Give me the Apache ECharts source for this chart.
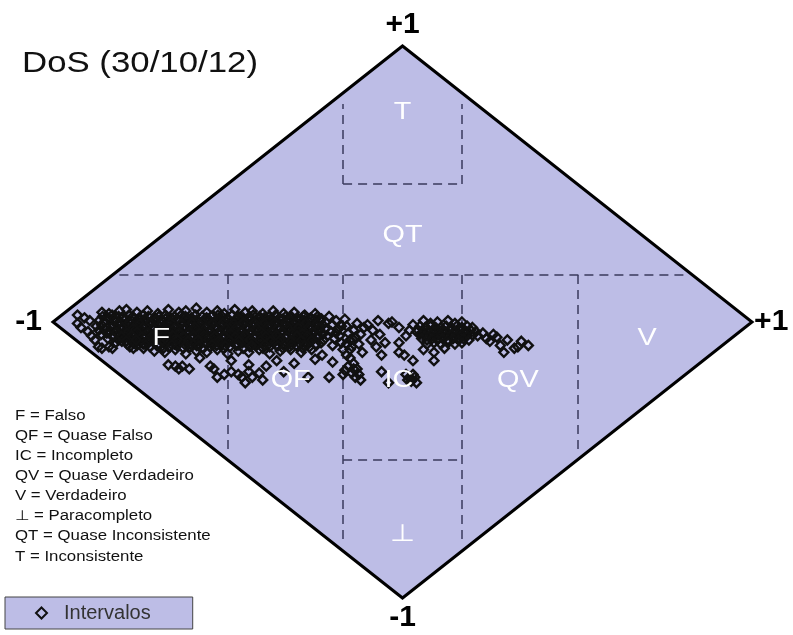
<!DOCTYPE html>
<html>
<head>
<meta charset="utf-8">
<script src="https://cdn.jsdelivr.net/npm/echarts@6/dist/echarts.min.js"></script>
<style>
  html, body { margin: 0; padding: 0; background: #fff; }
  #chart { width: 793px; height: 635px; }
</style>
</head>
<body>
<div id="chart"></div>
<script>
// lattice: x = grau de certeza, y = grau de contradicao
const losango = [[-1, 0], [0, 1], [1, 0], [0, -1], [-1, 0]];

// dashed borders of the regions
const divisorias = [
  [[-0.81, 0.17], [0.81, 0.17]],
  [[-0.5, 0.17], [-0.5, -0.47]],
  [[0.5, 0.17], [0.5, -0.47]],
  [[-0.17, 0.17], [-0.17, -0.8]],
  [[0.17, 0.17], [0.17, -0.8]],
  [[-0.17, -0.5], [0.17, -0.5]],
  [[-0.17, 0.5], [-0.17, 0.79]],
  [[0.17, 0.5], [0.17, 0.79]],
  [[-0.17, 0.5], [0.17, 0.5]]
];

const regioes = ['T', 'QT', 'F', 'QF', 'IC', 'QV', 'V', '⊥'];
const regiaoX = [0, 0, -0.69, -0.32, -0.01, 0.33, 0.70, 0];
const regiaoY = [0.76, 0.315, -0.06, -0.21, -0.21, -0.21, -0.06, -0.77];

const vertices = ['+1', '-1', '+1', '-1'];
const verticeX = [0, -1.07, 1.055, 0];
const verticeY = [1.076, 0, 0, -1.07];

const legendaSiglas = [
  'F = Falso',
  'QF = Quase Falso',
  'IC = Incompleto',
  'QV = Quase Verdadeiro',
  'V = Verdadeiro',
  '⊥ = Paracompleto',
  'QT = Quase Inconsistente',
  'T = Inconsistente'
];

// intervalos (certeza, contradicao)
const intervalos = [
  // left tail
  [-.93,.025],[-.91,.015],[-.93,-.005],[-.92,-.02],[-.90,-.035],[-.89,-.05],[-.88,-.065],[-.87,-.09],
  [-.86,-.095],[-.84,-.09],[-.83,-.095],[-.77,-.095],[-.86,.035],[-.84,.03],[-.79,.045],[-.895,.005],
  // main band
  [-.81,.04],[-.76,.035],[-.73,.04],[-.70,.03],[-.67,.045],[-.64,.035],[-.62,.04],[-.59,.05],[-.56,.035],
  [-.53,.04],[-.51,.03],[-.48,.045],[-.45,.035],[-.43,.04],[-.40,.03],[-.37,.04],[-.34,.03],[-.31,.035],
  [-.28,.025],[-.25,.03],
  [-.858,.02],[-.843,.015],[-.831,.025],[-.812,.02],[-.801,.015],[-.783,.025],[-.772,.02],[-.754,.015],
  [-.741,.025],[-.727,.02],[-.709,.015],[-.697,.02],[-.678,.025],[-.664,.015],[-.652,.02],[-.633,.025],
  [-.621,.02],[-.604,.015],[-.592,.025],[-.573,.02],[-.561,.015],[-.547,.02],[-.528,.025],[-.516,.02],
  [-.502,.015],[-.487,.025],[-.469,.02],[-.456,.015],[-.438,.02],[-.427,.025],[-.409,.02],[-.396,.015],
  [-.381,.02],[-.363,.025],[-.352,.015],[-.334,.02],[-.318,.02],[-.302,.015],[-.284,.02],[-.263,.015],
  [-.243,.02],
  [-.868,.005],[-.852,0],[-.838,.01],[-.821,.005],[-.807,0],[-.792,.01],[-.776,.005],[-.762,0],
  [-.748,.01],[-.733,.005],[-.716,0],[-.703,.01],[-.687,.005],[-.672,0],[-.657,.01],[-.641,.005],
  [-.628,0],[-.612,.01],[-.597,.005],[-.583,0],[-.566,.01],[-.552,.005],[-.537,0],[-.522,.01],
  [-.508,.005],[-.493,0],[-.477,.01],[-.463,.005],[-.447,0],[-.432,.01],[-.417,.005],[-.403,0],
  [-.388,.01],[-.372,.005],[-.357,0],[-.342,.01],[-.327,.005],[-.311,0],[-.296,.01],[-.281,.005],
  [-.266,0],[-.25,.01],[-.235,.005],[-.22,0],
  [-.876,-.015],[-.861,-.01],[-.846,-.02],[-.829,-.015],[-.814,-.01],[-.799,-.02],[-.785,-.015],[-.769,-.01],
  [-.754,-.02],[-.739,-.015],[-.724,-.01],[-.71,-.02],[-.694,-.015],[-.679,-.01],[-.664,-.02],[-.65,-.015],
  [-.634,-.01],[-.619,-.02],[-.604,-.015],[-.589,-.01],[-.575,-.02],[-.559,-.015],[-.544,-.01],[-.529,-.02],
  [-.515,-.015],[-.5,-.01],[-.485,-.02],[-.469,-.015],[-.454,-.01],[-.44,-.02],[-.424,-.015],[-.409,-.01],
  [-.395,-.02],[-.379,-.015],[-.364,-.01],[-.35,-.02],[-.334,-.015],[-.319,-.01],[-.304,-.02],[-.289,-.015],
  [-.274,-.01],[-.259,-.02],[-.243,-.015],[-.228,-.01],
  [-.869,-.03],[-.853,-.025],[-.837,-.035],[-.822,-.03],[-.806,-.025],[-.792,-.035],[-.777,-.03],[-.761,-.025],
  [-.747,-.035],[-.731,-.03],[-.717,-.025],[-.702,-.035],[-.686,-.03],[-.672,-.025],[-.656,-.035],[-.642,-.03],
  [-.627,-.025],[-.611,-.035],[-.596,-.03],[-.582,-.025],[-.567,-.035],[-.551,-.03],[-.536,-.025],[-.521,-.035],
  [-.507,-.03],[-.492,-.025],[-.476,-.035],[-.462,-.03],[-.446,-.025],[-.431,-.035],[-.417,-.03],[-.401,-.025],
  [-.387,-.035],[-.371,-.03],[-.356,-.025],[-.342,-.035],[-.326,-.03],[-.311,-.025],[-.296,-.035],[-.282,-.03],
  [-.266,-.025],[-.251,-.035],[-.236,-.03],[-.221,-.025],
  [-.862,-.045],[-.846,-.04],[-.831,-.05],[-.815,-.045],[-.8,-.04],[-.786,-.05],[-.77,-.045],[-.755,-.04],
  [-.739,-.05],[-.724,-.045],[-.709,-.04],[-.695,-.05],[-.679,-.045],[-.664,-.04],[-.649,-.05],[-.634,-.045],
  [-.619,-.04],[-.604,-.05],[-.589,-.045],[-.574,-.04],[-.559,-.05],[-.544,-.045],[-.529,-.04],[-.514,-.05],
  [-.499,-.045],[-.484,-.04],[-.469,-.05],[-.454,-.045],[-.439,-.04],[-.424,-.05],[-.409,-.045],[-.394,-.04],
  [-.379,-.05],[-.364,-.045],[-.349,-.04],[-.334,-.05],[-.319,-.045],[-.304,-.04],[-.289,-.05],[-.274,-.045],
  [-.259,-.04],[-.244,-.05],[-.229,-.045],
  [-.843,-.06],[-.827,-.055],[-.812,-.065],[-.797,-.06],[-.781,-.055],[-.767,-.065],[-.752,-.06],[-.736,-.055],
  [-.722,-.065],[-.706,-.06],[-.691,-.055],[-.677,-.065],[-.661,-.06],[-.646,-.055],[-.631,-.065],[-.616,-.06],
  [-.601,-.055],[-.586,-.065],[-.571,-.06],[-.556,-.055],[-.541,-.065],[-.526,-.06],[-.511,-.055],[-.496,-.065],
  [-.481,-.06],[-.466,-.055],[-.451,-.065],[-.436,-.06],[-.421,-.055],[-.406,-.065],[-.391,-.06],[-.376,-.055],
  [-.361,-.065],[-.346,-.06],[-.331,-.055],[-.316,-.065],[-.301,-.06],[-.286,-.055],[-.271,-.065],[-.256,-.06],
  [-.241,-.055],[-.226,-.065],
  [-.821,-.075],[-.803,-.07],[-.788,-.08],[-.772,-.075],[-.758,-.07],[-.742,-.08],[-.727,-.075],[-.713,-.07],
  [-.697,-.08],[-.682,-.075],[-.668,-.07],[-.652,-.08],[-.637,-.075],[-.622,-.07],[-.607,-.08],[-.592,-.075],
  [-.578,-.07],[-.562,-.08],[-.548,-.075],[-.533,-.07],[-.518,-.08],[-.503,-.075],[-.488,-.07],[-.473,-.08],
  [-.458,-.075],[-.443,-.07],[-.428,-.08],[-.413,-.075],[-.398,-.07],[-.383,-.08],[-.368,-.075],[-.353,-.07],
  [-.338,-.08],[-.323,-.075],[-.308,-.07],[-.293,-.08],[-.278,-.075],[-.263,-.07],[-.248,-.08],[-.233,-.075],
  [-.78,-.09],[-.76,-.085],[-.741,-.095],[-.722,-.09],[-.703,-.085],[-.684,-.095],[-.665,-.09],[-.646,-.085],
  [-.627,-.095],[-.608,-.09],[-.589,-.085],[-.57,-.095],[-.551,-.09],[-.532,-.085],[-.513,-.095],[-.494,-.09],
  [-.475,-.085],[-.456,-.095],[-.437,-.09],[-.418,-.085],[-.399,-.095],[-.38,-.09],[-.361,-.085],[-.342,-.095],
  [-.323,-.09],[-.304,-.085],[-.285,-.095],[-.266,-.09],[-.247,-.085],
  [-.71,-.105],[-.68,-.11],[-.65,-.1],[-.62,-.115],[-.59,-.105],[-.56,-.11],[-.53,-.1],[-.5,-.115],
  [-.47,-.105],[-.44,-.11],[-.41,-.1],[-.38,-.115],[-.35,-.105],[-.32,-.1],[-.29,-.11],[-.26,-.1],
  // core of the band, between the rows above
  [-.826,.012],[-.795,.008],[-.768,.013],[-.737,.011],[-.706,.007],[-.678,.012],[-.647,.009],[-.619,.013],
  [-.588,.008],[-.557,.012],[-.529,.01],[-.498,.007],[-.469,.012],[-.441,.009],[-.41,.013],[-.379,.008],
  [-.35,.011],[-.321,.007],[-.29,.012],[-.262,.009],[-.232,.011],
  [-.812,-.004],[-.781,-.002],[-.752,-.006],[-.722,-.003],[-.69,-.005],[-.663,-.002],[-.632,-.006],[-.603,-.004],
  [-.573,-.002],[-.543,-.005],[-.514,-.003],[-.483,-.006],[-.455,-.002],[-.424,-.004],[-.394,-.005],[-.366,-.003],
  [-.334,-.006],[-.305,-.002],[-.276,-.004],[-.245,-.005],
  [-.833,-.022],[-.802,-.019],[-.771,-.023],[-.743,-.02],[-.713,-.022],[-.684,-.018],[-.652,-.023],[-.624,-.021],
  [-.595,-.019],[-.564,-.022],[-.536,-.02],[-.505,-.023],[-.476,-.019],[-.447,-.021],[-.417,-.022],[-.387,-.018],
  [-.357,-.023],[-.328,-.02],[-.298,-.021],[-.269,-.019],[-.239,-.022],
  [-.818,-.038],[-.788,-.041],[-.759,-.036],[-.728,-.039],[-.698,-.042],[-.669,-.037],[-.639,-.04],[-.61,-.038],
  [-.58,-.041],[-.55,-.036],[-.521,-.039],[-.492,-.042],[-.462,-.037],[-.433,-.04],[-.403,-.038],[-.373,-.041],
  [-.344,-.036],[-.315,-.039],[-.286,-.042],[-.256,-.037],
  [-.804,-.052],[-.775,-.049],[-.745,-.053],[-.716,-.05],[-.686,-.052],[-.657,-.048],[-.627,-.053],[-.598,-.05],
  [-.568,-.049],[-.538,-.052],[-.509,-.05],[-.479,-.053],[-.45,-.049],[-.42,-.051],[-.391,-.052],[-.361,-.048],
  [-.331,-.053],[-.302,-.05],[-.272,-.051],[-.243,-.049],
  [-.79,-.068],[-.762,-.065],[-.732,-.069],[-.703,-.066],[-.673,-.068],[-.644,-.064],[-.614,-.069],[-.585,-.066],
  [-.555,-.065],[-.526,-.068],[-.496,-.066],[-.467,-.069],[-.437,-.065],[-.408,-.067],[-.378,-.068],[-.349,-.064],
  [-.319,-.069],[-.29,-.066],[-.26,-.067],
  [-.735,-.083],[-.697,-.086],[-.66,-.082],[-.62,-.085],[-.583,-.087],[-.545,-.082],[-.507,-.086],[-.47,-.083],
  [-.432,-.085],[-.394,-.082],[-.356,-.086],[-.318,-.083],[-.28,-.085],
  // below the band
  [-.67,-.155],[-.65,-.16],[-.64,-.17],[-.63,-.16],[-.61,-.17],[-.55,-.16],[-.54,-.17],[-.53,-.2],
  [-.51,-.19],[-.49,-.18],[-.47,-.19],[-.46,-.2],[-.45,-.22],[-.44,-.18],[-.43,-.2],[-.41,-.185],
  [-.40,-.21],[-.44,-.155],[-.49,-.14],[-.58,-.13],[-.39,-.16],[-.34,-.18],[-.36,-.14],[-.31,-.15],
  [-.27,-.2],[-.21,-.2],[-.2,-.145],[-.23,-.12],[-.25,-.135],
  // centre
  [-.21,.02],[-.2,-.01],[-.205,-.035],[-.195,-.06],[-.2,-.085],[-.19,.005],[-.185,-.025],[-.18,-.05],
  [-.175,-.075],[-.17,-.1],[-.165,.01],[-.16,-.015],[-.155,-.04],[-.15,-.065],[-.145,-.09],[-.14,-.03],
  [-.135,-.055],[-.13,-.005],[-.125,-.08],[-.12,-.045],[-.115,-.11],[-.11,-.02],[-.16,-.12],[-.15,-.13],
  [-.14,-.15],[-.155,-.16],[-.13,-.17],[-.145,-.185],[-.135,-.2],[-.125,-.19],[-.12,-.21],[-.165,-.175],
  [-.17,-.19],[-.215,-.05],[-.19,-.04],[-.175,-.015],[-.16,-.08],[-.14,-.065],[-.15,-.1],[-.14,-.17],
  [-.1,-.01],[-.09,-.065],[-.075,-.09],[-.085,-.03],[-.065,-.045],[-.06,-.12],[-.06,-.18],[-.04,-.22],
  [-.05,-.075],[-.04,-.005],[-.03,0],[-.07,.005],
  // IC cluster
  [.01,-.19],[.02,-.2],[.03,-.19],[.025,-.215],[.035,-.2],[.015,-.21],[.04,-.22],
  // right cluster
  [-.01,-.02],[.01,-.05],[-.01,-.075],[-.01,-.11],[.005,-.12],[.03,-.14],[.03,-.01],[.04,-.035],[.02,-.03],
  [.06,.005],[.08,-.005],[.1,0],[.13,.005],[.15,-.005],[.17,0],
  [.05,-.015],[.065,-.02],[.08,-.015],[.095,-.02],[.11,-.02],[.125,-.015],[.14,-.02],[.155,-.015],
  [.17,-.02],[.185,-.015],[.2,-.02],
  [.045,-.03],[.06,-.035],[.075,-.03],[.09,-.035],[.105,-.03],[.12,-.035],[.135,-.03],[.15,-.035],
  [.165,-.03],[.18,-.035],[.195,-.03],[.21,-.035],
  [.05,-.045],[.065,-.05],[.08,-.045],[.095,-.05],[.11,-.045],[.125,-.05],[.14,-.045],[.155,-.05],
  [.17,-.045],[.185,-.05],[.2,-.047],[.215,-.05],
  [.055,-.06],[.07,-.065],[.085,-.06],[.1,-.065],[.115,-.06],[.13,-.065],[.145,-.06],[.16,-.065],
  [.175,-.06],[.19,-.065],
  [.07,-.08],[.09,-.075],[.11,-.08],[.13,-.075],[.15,-.08],[.17,-.075],
  [.09,-.11],[.09,-.14],[.06,-.1],[.12,-.095],
  // tail
  [.23,-.04],[.24,-.06],[.25,-.07],[.26,-.045],[.28,-.085],[.29,-.11],[.3,-.065],[.32,-.095],
  [.33,-.09],[.34,-.07],[.36,-.085],[.27,-.055]
];

const chart = echarts.init(document.getElementById('chart'));
const fundo = '#BDBDE6';
const fonte = '"Liberation Sans", Arial, sans-serif';

chart.setOption({
  animation: false,
  grid: { left: 53, right: 41, top: 46, bottom: 37 },
  xAxis: { type: 'value', min: -1, max: 1, show: false },
  yAxis: { type: 'value', min: -1, max: 1, show: false },
  legend: {
    data: ['Intervalos'],
    left: 5,
    top: 597,
    icon: 'diamond',
    itemWidth: 11,
    itemHeight: 11,
    padding: [6, 42, 6, 30],
    backgroundColor: fundo,
    borderColor: '#444',
    borderWidth: 1,
    borderRadius: 0,
    textStyle: { fontFamily: fonte, fontSize: 20, color: '#333', padding: [0, 0, 0, 12] }
  },
  series: [
    {
      type: 'custom',
      silent: true,
      z: 1,
      data: losango,
      renderItem: function (params, api) {
        if (params.dataIndex !== 0) return;
        return {
          type: 'polygon',
          shape: { points: losango.map(function (p) { return api.coord(p); }) },
          style: { fill: fundo, stroke: '#000', lineWidth: 3, lineJoin: 'miter' }
        };
      }
    },
    {
      type: 'lines',
      coordinateSystem: 'cartesian2d',
      silent: true,
      z: 2,
      data: divisorias.map(function (c) { return { coords: c }; }),
      lineStyle: { color: '#3a3a5c', width: 1.5, type: [9, 6], opacity: 1 }
    },
    {
      name: 'Intervalos',
      type: 'scatter',
      z: 3,
      symbol: 'diamond',
      symbolSize: 9,
      data: intervalos,
      itemStyle: { color: 'rgba(0,0,0,0)', borderColor: '#111', borderWidth: 2.4, opacity: 1 }
    }
  ]
});

const graficos = [];
regioes.forEach(function (r, i) {
  const p = chart.convertToPixel({ gridIndex: 0 }, [regiaoX[i], regiaoY[i]]);
  graficos.push({
    type: 'text', x: p[0], y: p[1], scaleX: 1.2, z: 10,
    style: { text: r, fill: '#fff', font: '24px ' + fonte, align: 'center', verticalAlign: 'middle' }
  });
});
vertices.forEach(function (v, i) {
  const p = chart.convertToPixel({ gridIndex: 0 }, [verticeX[i], verticeY[i]]);
  graficos.push({
    type: 'text', x: p[0], y: p[1], z: 10,
    style: { text: v, fill: '#000', font: 'bold 30px ' + fonte, align: 'center', verticalAlign: 'middle' }
  });
});
graficos.push({
  type: 'text', x: 22, y: 64, scaleX: 1.2, z: 10,
  style: { text: 'DoS (30/10/12)', fill: '#111', font: '29px ' + fonte, align: 'left', verticalAlign: 'middle' }
});
legendaSiglas.forEach(function (t, i) {
  graficos.push({
    type: 'text', x: 15, y: 416 + i * 20.1, scaleX: 1.2, z: 10,
    style: { text: t, fill: '#111', font: '14px ' + fonte, align: 'left', verticalAlign: 'middle' }
  });
});
chart.setOption({ graphic: graficos });
</script>
</body>
</html>
